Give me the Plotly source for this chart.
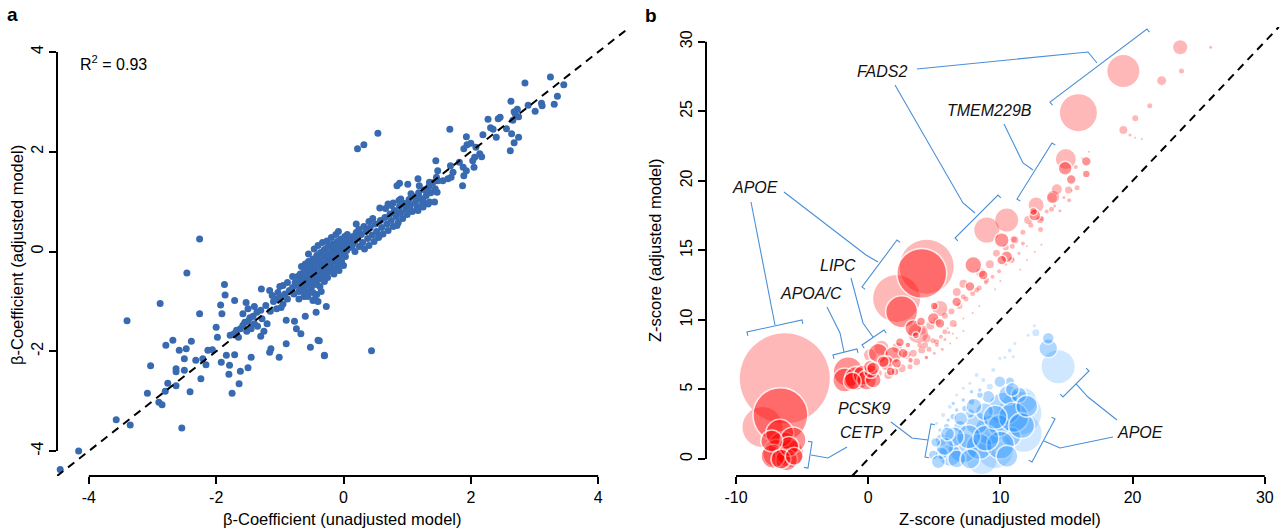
import plotly.graph_objects as go

W, H = 1280, 531
FONT = "Liberation Sans, Arial, Helvetica, sans-serif"

# ---------------- Panel a : beta coefficients (unadjusted, adjusted) ----------------
a_sparse = [(-2.26,0.25),(-2.46,-0.43),(-2.88,-1.04),(-3.40,-1.39),(-2.26,-1.25),(-1.87,-0.66),(-1.86,-0.87),
            (-1.93,-1.07),(-1.91,-1.25),(-1.71,-0.98),(-1.53,-1.02),(-1.29,-0.75),(-1.16,-0.78),(-1.03,-0.82),
            (-0.95,-0.68),(-2.00,-1.52),(-1.98,-1.72),(-2.68,-1.78),(-2.79,-1.88),(-2.39,-1.80),(-2.58,-1.98),
            (-2.47,-1.95),(-2.50,-2.15),(-3.03,-2.29),(-2.63,-2.35),(-2.50,-2.38),(-2.63,-2.41),(-2.24,-2.55),
            (-2.32,-2.18),(-2.21,-2.15),(-2.16,-2.27),(-2.13,-1.98),(-2.06,-1.97),(-1.84,-2.08),(-1.71,-2.07),
            (-1.92,-2.22),(-1.79,-2.28),(-1.80,-2.46),(-1.62,-2.40),(-1.50,-2.33),(-1.45,-2.12),(-1.64,-2.65),
            (-1.75,-2.84),(-2.76,-2.64),(-2.80,-2.80),(-2.63,-2.69),(-3.08,-2.84),(-2.41,-2.81),(-2.90,-3.02),
            (-2.85,-3.07),(-3.57,-3.37),(-3.35,-3.48),(-2.54,-3.54),(-4.16,-4.00),(-4.45,-4.37),(-0.30,-2.08),
            (-0.52,-1.92),(-0.40,-1.78),(-1.01,-2.12),(-1.16,-2.02),(-1.14,-1.95),(-0.90,-1.38),(-0.77,-1.40),
            (-0.74,-1.55),(-0.27,-1.10),(-0.38,-1.79),(-0.30,-2.09),(0.44,-1.99),(-0.43,-1.22),(-0.48,-0.98),
            (-0.59,-0.85),(-0.67,-1.65),(-0.90,-1.85),(-0.60,-1.30)]
a_clump = [(-1.72,-1.65),(-1.68,-1.58),(-1.62,-1.55),(-1.58,-1.48),(-1.55,-1.42),(-1.50,-1.40),(-1.47,-1.33),
           (-1.42,-1.30),(-1.40,-1.45),(-1.36,-1.22),(-1.30,-1.18),(-1.28,-1.35),(-1.52,-1.60),(-1.45,-1.55),
           (-1.35,-1.50),(-1.65,-1.72),(-1.78,-1.68),(-1.25,-1.60),(-1.20,-1.45),(-1.58,-1.25),(-1.50,-1.15),
           (-1.40,-1.10),(-1.30,-1.70),(-1.10,-1.00),(-1.05,-0.95),(-0.98,-0.90),(-0.92,-0.85),(-0.88,-0.95),
           (-0.85,-0.78),(-0.80,-0.72),(-0.78,-0.85),(-0.72,-0.68),(-0.70,-0.80),(-0.66,-0.62),(-0.62,-0.72),
           (-0.60,-0.55),(-0.56,-0.66),(-0.52,-0.50),(-0.95,-1.05),(-1.12,-0.88),(-0.70,-0.95),(-0.62,-0.90),
           (-0.55,-0.80),(-0.50,-0.70),(-0.45,-0.95),(-0.35,-0.80),(-0.40,-1.00),(-1.22,-1.08),(-1.15,-1.20),
           (-1.05,-1.15),(-0.98,-1.12),(-1.00,-0.70),(-0.88,-0.62),(-0.80,-0.50)]
a_core = [(-0.68,-0.45),(-0.66,-0.30),(-0.64,-0.52),(-0.62,-0.40),(-0.60,-0.25),(-0.58,-0.48),(-0.56,-0.35),
          (-0.55,-0.20),(-0.53,-0.58),(-0.52,-0.42),(-0.50,-0.28),(-0.48,-0.15),(-0.47,-0.50),(-0.45,-0.36),
          (-0.44,-0.22),(-0.42,-0.08),(-0.40,-0.45),(-0.39,-0.30),(-0.38,-0.16),(-0.36,-0.02),(-0.35,-0.55),
          (-0.34,-0.38),(-0.33,-0.24),(-0.31,-0.10),(-0.30,0.04),(-0.29,-0.46),(-0.28,-0.32),(-0.26,-0.18),
          (-0.25,-0.04),(-0.24,0.10),(-0.22,-0.40),(-0.21,-0.26),(-0.20,-0.12),(-0.18,0.02),(-0.17,0.15),
          (-0.16,-0.34),(-0.14,-0.20),(-0.13,-0.06),(-0.12,0.08),(-0.10,0.20),(-0.09,-0.28),(-0.08,-0.14),
          (-0.06,0.00),(-0.05,0.12),(-0.04,0.25),(-0.03,-0.20),(-0.02,-0.06),(0.00,0.06),(0.01,0.18),
          (0.02,0.30),(0.03,-0.10),(0.05,0.02),(0.06,0.14),(0.08,0.24),(0.10,0.08),(0.12,0.18),(-0.70,-0.62),
          (-0.65,-0.70),(-0.58,-0.65),(-0.50,-0.62),(-0.42,-0.66),(-0.37,-0.70),(-0.30,-0.60),(-0.55,-0.05),
          (-0.46,0.05),(-0.40,0.12),(-0.33,0.18),(-0.26,0.21),(-0.19,0.28),(-0.12,0.34),(-0.08,0.40),
          (0.15,0.30),(0.18,0.20),(0.20,0.38),(-0.25,-0.52),(-0.15,-0.45),(-0.07,-0.38),(0.00,-0.28),
          (-0.66,-0.58),(-0.61,-0.46),(-0.57,-0.30),(-0.51,-0.36),(-0.46,-0.42),(-0.43,-0.30),(-0.41,-0.56),
          (-0.36,-0.46),(-0.32,-0.34),(-0.27,-0.25),(-0.23,-0.31),(-0.19,-0.19),(-0.15,-0.09),(-0.11,-0.01),
          (-0.07,0.05),(-0.03,0.12),(0.02,0.12),(0.06,0.34),(-0.64,-0.80),(-0.56,-0.90),(-0.48,-0.82),
          (-0.42,-0.86),(-0.72,-0.50),(-0.76,-0.62)]
a_band = [(0.14,0.12),(0.18,0.00),(0.22,0.26),(0.25,0.10),(0.28,0.34),(0.30,0.18),(0.33,0.05),(0.35,0.40),
          (0.38,0.26),(0.40,0.12),(0.42,0.48),(0.45,0.33),(0.48,0.20),(0.50,0.55),(0.52,0.40),(0.55,0.28),
          (0.58,0.62),(0.60,0.48),(0.62,0.35),(0.65,0.68),(0.68,0.55),(0.70,0.42),(0.73,0.75),(0.75,0.62),
          (0.78,0.50),(0.80,0.82),(0.83,0.70),(0.86,0.58),(0.88,0.90),(0.90,0.78),(0.93,0.66),(0.96,0.96),
          (0.98,0.85),(1.00,0.74),(1.03,1.04),(1.05,0.92),(1.08,0.80),(1.10,1.10),(1.13,0.98),(1.16,0.88),
          (1.18,1.18),(1.20,1.06),(1.24,0.95),(1.27,1.24),(1.30,1.12),(1.34,1.30),(1.37,1.18),(1.40,1.38),
          (1.44,1.26),(1.48,1.42),(0.56,0.31),(0.84,0.52),(0.20,0.55),(0.57,0.87),(0.24,0.44),(0.32,0.50),
          (0.40,0.60),(0.46,0.66),(0.66,0.86),(0.70,0.95),(0.90,1.05)]
a_upper = [(0.78,0.97),(0.87,1.02),(0.99,0.95),(1.04,0.86),(0.83,0.76),(0.75,0.92),(1.06,1.16),(1.19,1.09),
           (1.25,1.02),(1.33,0.95),(1.25,0.89),(1.17,0.82),(1.35,0.99),(1.43,0.99),(1.47,1.19),(0.88,1.37),
           (1.01,1.35),(0.84,1.32),(1.17,1.46),(1.19,1.32),(1.30,1.22),(1.35,1.39),(1.45,1.82),(1.48,1.62),
           (1.56,1.42),(1.46,1.49),(1.68,1.72),(1.72,1.59),(1.69,1.49),(1.64,1.46),(1.82,1.79),(1.88,1.69),
           (1.93,1.62),(1.89,1.52),(1.87,1.32),(2.08,2.09),(2.14,1.96),(2.06,1.89),(2.17,1.90),(2.03,1.82),
           (2.05,1.69),(1.93,2.30),(2.00,2.17),(1.94,2.14),(1.89,2.06),(1.67,2.45),(2.19,2.34),(2.40,2.29),
           (2.56,2.46),(2.64,2.36),(2.75,2.29),(2.68,2.18),(2.62,2.02),(2.31,2.48),(2.35,2.45),(2.46,2.69),
           (2.43,2.66),(2.27,2.65),(2.66,2.63),(2.70,2.75),(2.73,2.85),(2.75,2.70),(2.68,2.80),(2.63,3.01),
           (2.90,2.93),(3.01,2.81),(3.11,2.97),(3.12,2.92),(3.31,2.95),(3.36,3.11),(3.46,3.34),(3.25,3.50),
           (2.85,3.38),(0.54,2.37),(0.32,2.14),(0.22,2.06)]

# ---------------- Panel b : Z-scores (unadjusted, adjusted, bubble size) ----------------
red_plain = [(-6.31,5.80,90),(-8.0,2.3,40),(4.42,13.83,54),(2.15,11.55,47),(8.97,16.46,25),(10.48,17.18,23),
             (12.7,18.26,15),(14.0,18.86,12),(14.95,21.57,20),(19.3,27.9,32),(15.9,24.9,37),(23.6,29.6,14),
             (25.9,29.6,3),(23.7,27.9,5),(22.2,27.2,9),(21.3,25.4,5),(20.2,24.5,6),(19.3,23.65,8),(19.8,23.3,3),
             (20.2,23.1,2),(20.7,23.0,2),(14.27,19.39,10),(13.9,18.76,10),(15.8,19.5,5),(15.15,19.34,7),
             (5.43,10.83,15),(3.78,9.04,20),(12.1,17.18,8),(13.1,17.3,5),(13.87,17.95,5),(13.04,16.51,5),
             (15.2,18.6,4),(14.5,17.85,3),(11.1,15.74,7),(10.9,15.3,5),(11.7,15.5,4),(13.0,17.2,7),(10.85,14.3,6),
             (8.96,12.87,5),(8.2,12.15,5),(7.19,11.67,5),(6.43,9.75,7),(5.8,9.15,5),(4.42,8.68,8),(4.05,7.84,7),
             (5.17,8.43,5),(0.13,7.48,12),(2.9,7.48,8),(3.41,7.6,7),(2.53,6.52,8),(3.16,6.64,5),(1.52,6.04,8),
             (0.76,6.16,7),(3.66,7.0,7),(4.3,8.2,6),(4.6,7.9,5),(4.9,8.5,5),(5.2,8.2,4),(5.5,8.8,4),(5.8,8.6,3),
             (6.1,9.1,3),(6.4,9.0,2),(4.1,9.2,7),(4.7,9.6,8),(5.2,9.9,7),(5.8,10.3,6),(6.3,10.6,6),(6.9,11.0,6),
             (7.4,11.5,5),(7.9,11.9,5),(8.4,12.3,5),(8.9,12.7,4),(9.4,13.1,4),(9.9,13.5,4),(10.4,14.0,3),
             (10.9,14.4,3),(11.4,14.8,3),(12.0,15.3,2),(6.7,12.0,8),(7.2,12.6,8),(8.5,13.4,9),(9.2,14.0,8),
             (9.7,14.8,7),(10.4,15.2,6),(11.0,15.8,6),(11.7,16.3,5),(12.3,16.8,5),(12.9,17.3,4),(13.5,17.8,4),
             (14.1,18.2,3),(14.8,18.8,3),(15.4,19.3,2),(11.5,13.6,2),(12.0,14.3,2),(12.6,14.9,2),(13.1,15.4,2),
             (9.6,12.2,2),(10.0,12.8,2),(8.4,11.0,2),(7.9,10.5,2),(7.2,10.1,2),(6.6,9.6,2),(6.0,9.4,2),
             (16.2,21.6,3),(16.7,22.1,2),(15.7,21.0,4),(1.0,8.0,14),(2.2,8.0,10),(3.9,8.2,5),(5.0,7.6,3),
             (5.6,7.9,3),(6.2,8.3,2),(6.7,8.7,2),(7.2,9.2,2)]
red_ring = [(-6.64,3.16,55),(-6.44,0.88,30),(-6.94,0.41,28),(-5.93,0.41,28),(-6.69,1.85,28),(-5.68,1.37,26),
            (-6.18,-0.07,22),(-7.2,0.2,24),(-6.0,0.9,20),(-6.6,0.0,20),(-7.3,1.3,22),(-5.6,0.2,18),
            (-1.52,6.28,30),(-1.77,5.68,24),
            (-0.88,5.80,24),(-0.38,6.04,20),(-0.12,5.68,20),(0.38,5.68,16),(0.2,6.3,14),(-1.2,5.6,18),
            (4.05,13.35,50),(2.53,10.59,32),(3.41,9.40,17),(10.1,15.74,15),(7.95,13.95,17),(16.5,21.4,10),
            (15.36,20.1,10),(16.5,20.5,8),(14.9,20.9,14),(12.6,17.54,12),(12.5,17.8,8),(10.47,14.54,12),
            (10.1,14.3,10),(8.7,13.23,10),(7.7,12.4,10),(6.69,11.3,10),(4.92,10.1,12),(5.43,9.75,10),
            (0.76,7.6,20),(1.89,7.48,17),(1.39,6.88,15),(2.65,7.6,10),(1.14,7.0,12),(2.15,6.88,10),
            (2.02,6.28,8),(0.13,6.64,13),(0.38,6.52,13),(3.0,8.2,6),(2.4,8.4,9),(3.6,8.9,7),(1.7,6.3,9),
            (3.2,7.1,6),(4.4,7.3,5),(4.0,9.9,9),(5.0,11.0,8)]
blue_plain = [(14.37,6.64,33),(11.47,3.3,43),(11.72,1.85,37),(9.6,0.6,35),(12.68,9.08,7),(12.56,9.58,3),
              (12.1,8.9,3),(11.1,8.3,3),(10.7,7.8,4),(10.97,7.35,3),(10.34,7.3,3),(9.96,7.24,3),(9.46,6.4,4),
              (8.2,6.04,4),(7.69,5.44,3),(7.19,5.08,3),(6.69,4.6,3),(6.18,3.76,4),(5.67,3.16,4),(5.17,2.57,3),
              (8.7,5.68,4),(9.2,5.2,6),(11.8,4.2,24),(8.6,0.0,30)]
blue_ring = [(13.62,7.96,19),(13.62,8.68,12),(10.72,5.56,10),(9.96,5.56,12),(10.3,3.64,33),(9.21,2.08,30),
             (8.2,2.57,23),(7.19,0.8,30),(6.18,0.29,23),(5.55,1.37,13),(6.94,2.32,13),(7.69,3.28,10),
             (9.08,4.48,13),(8.45,4.6,7),(7.82,4.12,7),(7.82,4.84,5),(7.19,4.24,5),(7.32,3.64,7),(6.69,3.52,5),
             (6.43,3.04,7),(6.05,2.8,5),(5.93,2.32,7),(5.43,2.08,5),(5.55,0.41,13),(4.92,0.29,10),(8.44,4.96,5),
             (6.43,4.0,5),(10.8,1.6,20),(9.9,2.4,22),(8.4,0.9,26),(7.6,1.6,24),(6.5,1.6,20),(5.8,0.9,18),
             (8.8,3.4,18),(10.6,4.6,20),(11.4,4.6,16),(11.0,3.0,30),(10.0,1.0,28),(8.9,1.5,26),(9.6,3.0,24),
             (11.6,2.4,26),(12.0,3.8,22),(8.0,3.8,16),(10.9,5.0,14),(7.0,2.9,14),(6.0,1.8,14),(5.1,1.2,10),
             (6.7,0.0,18),(5.3,-0.2,14),(7.7,0.0,20),(10.5,0.2,22)]

a_ticks = [-4, -2, 0, 2, 4]
b_xticks = [-10, 0, 10, 20, 30]
b_yticks = [0, 5, 10, 15, 20, 25, 30]

# gene annotations (label, label centre px, leader polyline px, bracket end points px, hook target px)
genes = [
    ("FADS2", (882, 71), [(917, 69), (1088, 52), (1097, 63)], (1050, 102), (1147, 29), (1120, 80)),
    ("FADS2", None, [(895, 85), (963, 203), (975, 213)], (955, 238), (998, 195), (990, 235)),
    ("TMEM229B", (989, 111), [(1004, 124), (1023, 163), (1033, 170)], (1017, 199), (1052, 143), (1050, 190)),
    ("APOE", (755, 187), [(784, 192), (866, 255), (878, 262)], (862, 287), (897, 240), (910, 280)),
    ("APOE", None, [(751, 202), (775, 325)], (747, 332), (802, 320), (775, 370)),
    ("LIPC", (838, 265), [(851, 278), (863, 323), (873, 337)], (862, 345), (884, 330), (885, 358)),
    ("APOA/C", (811, 293), [(827, 307), (840, 333), (844, 352)], (833, 355), (857, 349), (845, 380)),
    ("PCSK9", (864, 408), [(891, 422), (912, 438), (928, 440)], (931, 424), (925, 457), (960, 440)),
    ("CETP", (861, 432), [(847, 447), (828, 458), (811, 455)], (812, 442), (808, 468), (780, 455)),
    ("APOE", (1140, 432), [(1113, 437), (1060, 448), (1044, 441)], (1055, 419), (1032, 462), (1005, 430)),
    ("APOE", None, [(1117, 420), (1088, 397), (1076, 384)], (1089, 371), (1063, 397), (1050, 370)),
]

# ---------------- figure ----------------
def paper(px, py):
    return px / W, 1 - py / H

pa = a_sparse + a_clump + a_core + a_band + a_upper
fig = go.Figure()
fig.add_trace(go.Scatter(x=[p[0] for p in pa], y=[p[1] for p in pa], mode="markers",
                         marker=dict(size=7, color="#386ab1", line=dict(width=0)),
                         xaxis="x", yaxis="y", hoverinfo="skip", cliponaxis=False))

def bubbles(data, fill, ring):
    fig.add_trace(go.Scatter(
        x=[d[0] for d in data], y=[d[1] for d in data], mode="markers",
        marker=dict(size=[d[2] for d in data], sizemode="diameter", color=fill,
                    line=dict(width=1.6 if ring else 0, color="white")),
        xaxis="x2", yaxis="y2", hoverinfo="skip", cliponaxis=False))

bubbles(red_plain, "rgba(255,0,0,0.40)", False)
bubbles(blue_plain, "rgba(30,144,255,0.30)", False)
bubbles(red_ring, "rgba(255,0,0,0.60)", True)
bubbles(blue_ring, "rgba(30,144,255,0.50)", True)

ydom = [(H - 476) / H, (H - 27) / H]
xa_rng = [-4.5, 4.5]
ya_rng = [-4.5, 4.5]
xb_rng = [-12.27, 31.15]
yb_rng = [-1.22, 31.06]

tickfont = dict(family=FONT, size=16, color="black")
common = dict(showgrid=False, zeroline=False, showline=False, ticks="outside", ticklen=7,
              tickwidth=2, tickcolor="black", tickfont=tickfont, tickmode="array")

fig.update_layout(
    width=W, height=H, margin=dict(l=0, r=0, t=0, b=0),
    paper_bgcolor="white", plot_bgcolor="white", showlegend=False,
    xaxis=dict(domain=[57 / W, 630 / W], range=xa_rng, anchor="y",
               tickvals=a_ticks, ticktext=[str(v) for v in a_ticks], **common),
    yaxis=dict(domain=ydom, range=ya_rng, anchor="x", tickangle=-90,
               tickvals=a_ticks, ticktext=[str(v) for v in a_ticks], **common),
    xaxis2=dict(domain=[706 / W, 1.0], range=xb_rng, anchor="y2",
                tickvals=b_xticks, ticktext=[str(v) for v in b_xticks], **common),
    yaxis2=dict(domain=ydom, range=yb_rng, anchor="x2", tickangle=-90,
                tickvals=b_yticks, ticktext=[str(v) for v in b_yticks], **common),
)

shapes = []
# axis lines spanning the tick range (R style)
shapes.append(dict(type="line", xref="x", yref="y domain", x0=a_ticks[0], x1=a_ticks[-1], y0=0, y1=0,
                   line=dict(color="black", width=2)))
shapes.append(dict(type="line", xref="x domain", yref="y", x0=0, x1=0, y0=a_ticks[0], y1=a_ticks[-1],
                   line=dict(color="black", width=2)))
shapes.append(dict(type="line", xref="x2", yref="y2 domain", x0=b_xticks[0], x1=b_xticks[-1], y0=0, y1=0,
                   line=dict(color="black", width=2)))
shapes.append(dict(type="line", xref="x2 domain", yref="y2", x0=0, x1=0, y0=b_yticks[0], y1=b_yticks[-1],
                   line=dict(color="black", width=2)))
# identity lines
lo, hi = max(xa_rng[0], ya_rng[0]), min(xa_rng[1], ya_rng[1])
shapes.append(dict(type="line", xref="x", yref="y", x0=lo, y0=lo, x1=hi, y1=hi,
                   line=dict(color="black", width=2, dash="8px,6px")))
lo, hi = max(xb_rng[0], yb_rng[0]), min(xb_rng[1], yb_rng[1])
shapes.append(dict(type="line", xref="x2", yref="y2", x0=lo, y0=lo, x1=hi, y1=hi,
                   line=dict(color="black", width=2, dash="8px,6px")))

BR = "#4a8fd8"
annotations = []
for name, lab, leader, A, B, tgt in genes:
    pts = [paper(*p) for p in leader]
    path = "M " + " L ".join(f"{x:.5f},{y:.5f}" for x, y in pts)
    shapes.append(dict(type="path", xref="paper", yref="paper", path=path,
                       line=dict(color=BR, width=1.1)))
    dx, dy = B[0] - A[0], B[1] - A[1]
    L = (dx * dx + dy * dy) ** 0.5
    nx, ny = -dy / L, dx / L
    mx, my = (A[0] + B[0]) / 2, (A[1] + B[1]) / 2
    if (tgt[0] - mx) * nx + (tgt[1] - my) * ny < 0:
        nx, ny = -nx, -ny
    hk = 4
    bpts = [(A[0] + hk * nx, A[1] + hk * ny), A, B, (B[0] + hk * nx, B[1] + hk * ny)]
    bp = [paper(*p) for p in bpts]
    path = "M " + " L ".join(f"{x:.5f},{y:.5f}" for x, y in bp)
    shapes.append(dict(type="path", xref="paper", yref="paper", path=path,
                       line=dict(color=BR, width=1.1)))
    if lab is not None:
        x, y = paper(*lab)
        annotations.append(dict(text=f"<i>{name}</i>", x=x, y=y, xref="paper", yref="paper",
                                showarrow=False, xanchor="center", yanchor="middle",
                                font=dict(family=FONT, size=16, color="#111111")))

titlefont = dict(family=FONT, size=16.5, color="black")
for text, px, py, ang in [("β-Coefficient (unadjusted model)", 342, 519, 0),
                          ("β-Coefficient (adjusted model)", 17, 255, -90),
                          ("Z-score (unadjusted model)", 1000, 519, 0),
                          ("Z-score (adjusted model)", 655, 251, -90)]:
    x, y = paper(px, py)
    annotations.append(dict(text=text, x=x, y=y, xref="paper", yref="paper", showarrow=False,
                            textangle=ang, xanchor="center", yanchor="middle", font=titlefont))
x, y = paper(78, 63)
annotations.append(dict(text="R<sup>2</sup> = 0.93", x=x, y=y, xref="paper", yref="paper",
                        showarrow=False, xanchor="left", yanchor="middle",
                        font=dict(family=FONT, size=16, color="black")))
for t, px, py in [("a", 12, 14), ("b", 651, 16)]:
    x, y = paper(px, py)
    annotations.append(dict(text=f"<b>{t}</b>", x=x, y=y, xref="paper", yref="paper", showarrow=False,
                            xanchor="center", yanchor="middle",
                            font=dict(family=FONT, size=19, color="black")))

fig.update_layout(shapes=shapes, annotations=annotations)
fig.write_html("out.html", config={"displayModeBar": False})
